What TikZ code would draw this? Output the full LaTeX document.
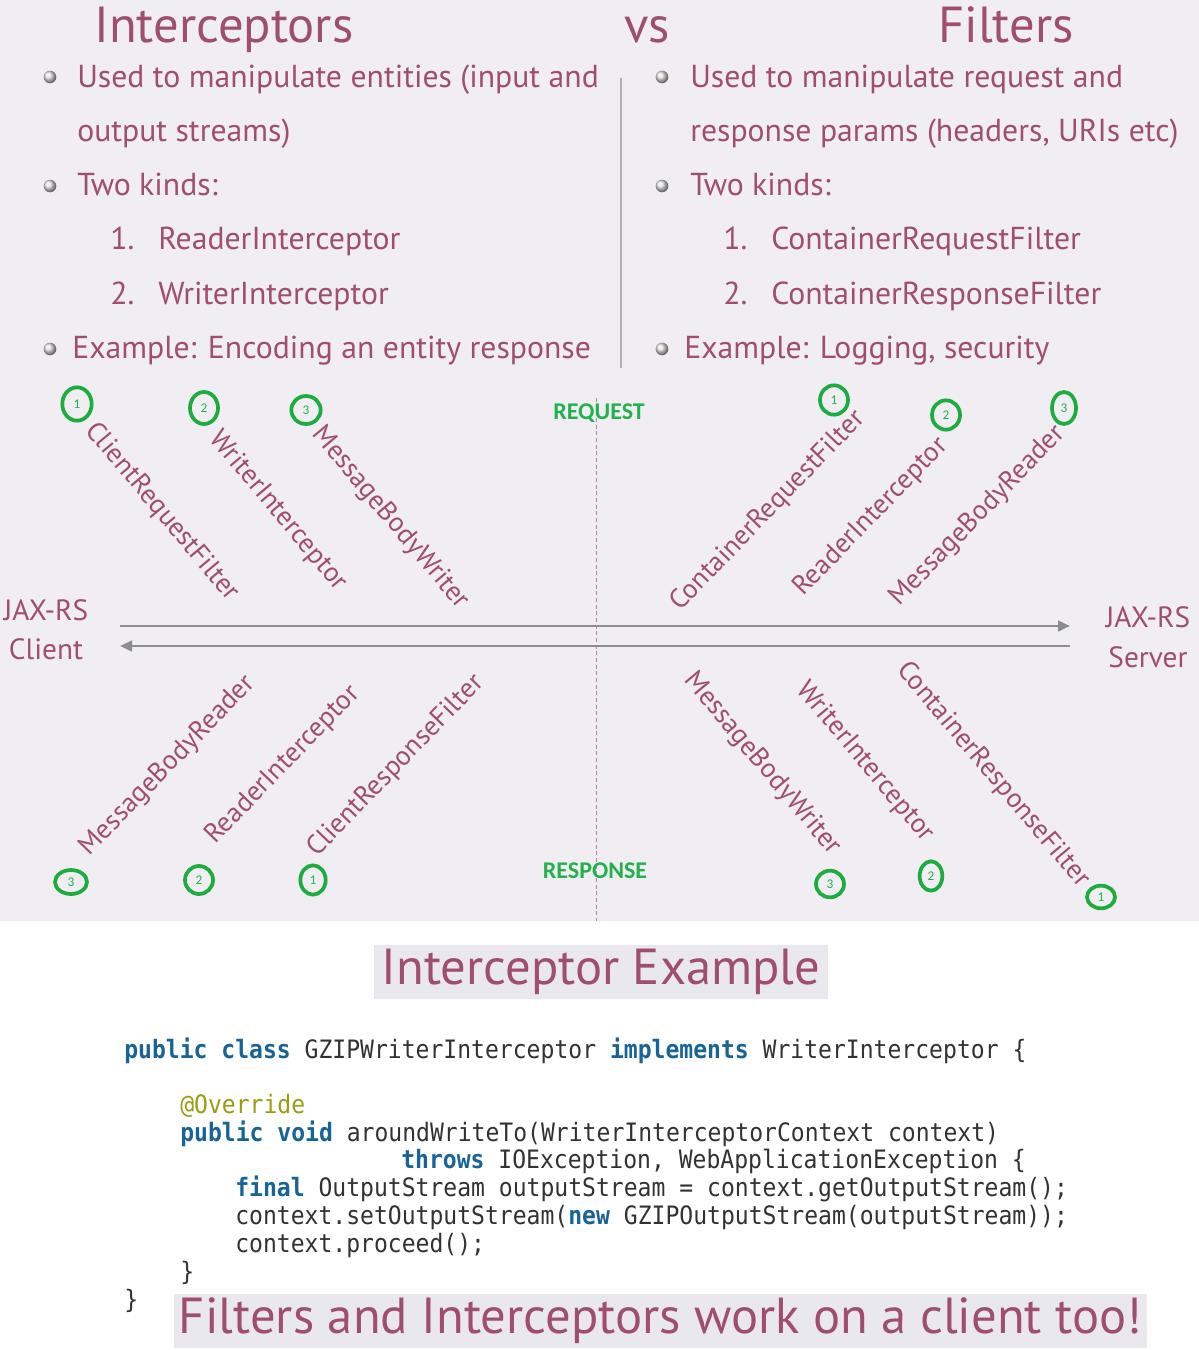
\documentclass[tikz,border=0pt]{standalone}
\usepackage{fontspec}
\setmainfont{PT Sans}
\newfontfamily\codefont[FakeStretch=0.91]{DejaVu Sans Mono}
\newfontfamily\lblfont{Carlito}
\usetikzlibrary{arrows.meta,shapes.geometric}
\definecolor{mauve}{RGB}{160,78,112}
\definecolor{bgl}{RGB}{240,238,243}
\definecolor{boxbg}{RGB}{234,232,239}
\definecolor{grn}{RGB}{30,172,62}
\definecolor{grntxt}{RGB}{34,177,76}
\definecolor{arrg}{RGB}{140,140,148}
\definecolor{divg}{RGB}{175,175,180}
\definecolor{kwc}{RGB}{25,100,150}
\definecolor{annc}{RGB}{155,155,20}
\definecolor{codetxt}{RGB}{50,50,50}
\newcommand\kwd[1]{{\color{kwc}\bfseries #1}}
\tikzset{
  title/.style={text=mauve, font=\fontsize{38}{44}\selectfont, inner sep=0, anchor=base west},
  btext/.style={text=mauve, font=\fontsize{23.8}{28}\selectfont, inner sep=0, anchor=base west},
  bul/.style={circle, inner sep=0, minimum size=9.5pt, shade, ball color=gray!22},
  lbl/.style={text=mauve, font=\fontsize{20.5}{24}\selectfont, inner sep=0},
  numc/.style={ellipse, draw=grn, line width=2.8pt, inner sep=0, text=grntxt, font=\lblfont\fontsize{10}{11}\selectfont},
  side/.style={text=mauve, font=\fontsize{22}{26}\selectfont, inner sep=0},
  phase/.style={text=grntxt, font=\lblfont\bfseries\fontsize{18}{21}\selectfont, inner sep=0},
  flow/.style={draw=arrg, line width=1.9pt},
  code/.style={text=codetxt, font=\codefont\fontsize{19}{22}\selectfont, inner sep=0, anchor=base west},
  bigbox/.style={fill=boxbg, text=mauve, font=\fontsize{38}{44}\selectfont, inner sep=0},
}
\begin{document}
\begin{tikzpicture}[x=0.75pt,y=-0.75pt]
\useasboundingbox (0,0) rectangle (1199,1350);
\fill[white] (0,0) rectangle (1199,1350);
\fill[bgl] (0,0) rectangle (1199,921);
% titles
\node[title] (tI) at (94,42) {Interceptors};
\node[title] (tvs) at (624,42) {vs};
\node[title] (tF) at (938,42) {Filters};
% divider
\coordinate (dv1) at (621,78);
\coordinate (dv2) at (621,368);
\draw[divg, line width=0.8pt] (dv1) -- (dv2);
% left column
\node[bul] (lb1) at (50,77) {};
\node[bul] (lb2) at (50,186) {};
\node[bul] (lb3) at (50,349) {};
\node[btext] (l1) at (77,87) {Used to manipulate entities (input and};
\node[btext] (l2) at (77,141) {output streams)};
\node[btext] (l3) at (77,195) {Two kinds:};
\node[btext] (l4n) at (110,249) {1.};
\node[btext] (l4) at (158,249) {ReaderInterceptor};
\node[btext] (l5n) at (110,304) {2.};
\node[btext] (l5) at (158,304) {WriterInterceptor};
\node[btext] (l6) at (72,358) {Example: Encoding an entity response};
% right column
\node[bul] (rb1) at (662,77) {};
\node[bul] (rb2) at (662,186) {};
\node[bul] (rb3) at (662,349) {};
\node[btext] (r1) at (690,87) {Used to manipulate request and};
\node[btext] (r2) at (690,141) {response params (headers, URIs etc)};
\node[btext] (r3) at (690,195) {Two kinds:};
\node[btext] (r4n) at (723,249) {1.};
\node[btext] (r4) at (771,249) {ContainerRequestFilter};
\node[btext] (r5n) at (723,304) {2.};
\node[btext] (r5) at (771,304) {ContainerResponseFilter};
\node[btext] (r6) at (684,358) {Example: Logging, security};
% phase labels and dashed line
\coordinate (dsh1) at (596,398);
\coordinate (dsh2) at (596,921);
\draw[mauve!70, line width=0.6pt, dash pattern=on 3pt off 2pt] (dsh1) -- (dsh2);
\node[phase] (req) at (599,413) {REQUEST};
\node[phase] (resp) at (595,871) {RESPONSE};
% flow arrows
\node[side] (jc1) at (46,610) {JAX-RS};
\node[side] (jc2) at (46,649) {Client};
\node[side] (js1) at (1148,617) {JAX-RS};
\node[side] (js2) at (1148,657) {Server};
\coordinate (a1s) at (120,626);
\coordinate (a1e) at (1070,626);
\coordinate (a2s) at (1070,646);
\coordinate (a2e) at (120,646);
\draw[flow, -{Triangle[length=9pt,width=8pt]}] (a1s) -- (a1e);
\draw[flow, -{Triangle[length=9pt,width=8pt]}] (a2s) -- (a2e);
% request side labels
\node[lbl, rotate=-50] (q1) at (162,512) {ClientRequestFilter};
\node[lbl, rotate=-50] (q2) at (278,511) {WriterInterceptor};
\node[lbl, rotate=-50] (q3) at (390,518) {MessageBodyWriter};
\node[lbl, rotate=46] (q4) at (768,511) {ContainerRequestFilter};
\node[lbl, rotate=46] (q5) at (871,517) {ReaderInterceptor};
\node[lbl, rotate=46] (q6) at (978,516) {MessageBodyReader};
% response side labels
\node[lbl, rotate=46] (p3) at (168,766) {MessageBodyReader};
\node[lbl, rotate=46] (p2) at (283,765) {ReaderInterceptor};
\node[lbl, rotate=46] (p1) at (396,766) {ClientResponseFilter};
\node[lbl, rotate=-50] (s3) at (762,764) {MessageBodyWriter};
\node[lbl, rotate=-50] (s2) at (865,762) {WriterInterceptor};
\node[lbl, rotate=-50] (s1) at (993,775) {ContainerResponseFilter};
% numbered ellipses
\node[numc, minimum width=22pt, minimum height=25pt] (n1) at (77,404) {1};
\node[numc, minimum width=21pt, minimum height=24pt] (n2) at (204,408) {2};
\node[numc, minimum width=22pt, minimum height=21pt] (n3) at (306,410) {3};
\node[numc, minimum width=21pt, minimum height=22pt] (n4) at (834,400) {1};
\node[numc, minimum width=21pt, minimum height=22pt] (n5) at (946,415) {2};
\node[numc, minimum width=18pt, minimum height=24pt] (n6) at (1064,408) {3};
\node[numc, minimum width=24pt, minimum height=18pt] (n7) at (71,882) {3};
\node[numc, minimum width=21pt, minimum height=21pt] (n8) at (199,880) {2};
\node[numc, minimum width=19pt, minimum height=22pt] (n9) at (313,880) {1};
\node[numc, minimum width=21pt, minimum height=20pt] (n10) at (830,884) {3};
\node[numc, minimum width=17pt, minimum height=22pt] (n11) at (931,876) {2};
\node[numc, minimum width=21pt, minimum height=17pt] (n12) at (1101,897) {1};
% interceptor example
\node[bigbox, minimum width=340.5pt, minimum height=41pt] (ex) at (601,972) {Interceptor Example};
% code
\node[code] (c1) at (124,1058) {\kwd{public class} GZIPWriterInterceptor \kwd{implements} WriterInterceptor \{};
\node[code, text=annc] (c2) at (180,1113) {@Override};
\node[code] (c3) at (180,1141) {\kwd{public void} aroundWriteTo(WriterInterceptorContext context)};
\node[code] (c4) at (401,1168) {\kwd{throws} IOException, WebApplicationException \{};
\node[code] (c5) at (235,1196) {\kwd{final} OutputStream outputStream = context.getOutputStream();};
\node[code] (c6) at (235,1224) {context.setOutputStream(\kwd{new} GZIPOutputStream(outputStream));};
\node[code] (c7) at (235,1252) {context.proceed();};
\node[code] (c8) at (180,1280) {\}};
\node[code] (c9) at (124,1308) {\}};
% banner
\node[bigbox, minimum width=729.75pt, minimum height=40pt] (ban) at (660.5,1321) {Filters and Interceptors work on a client too!};
\end{tikzpicture}
\end{document}
